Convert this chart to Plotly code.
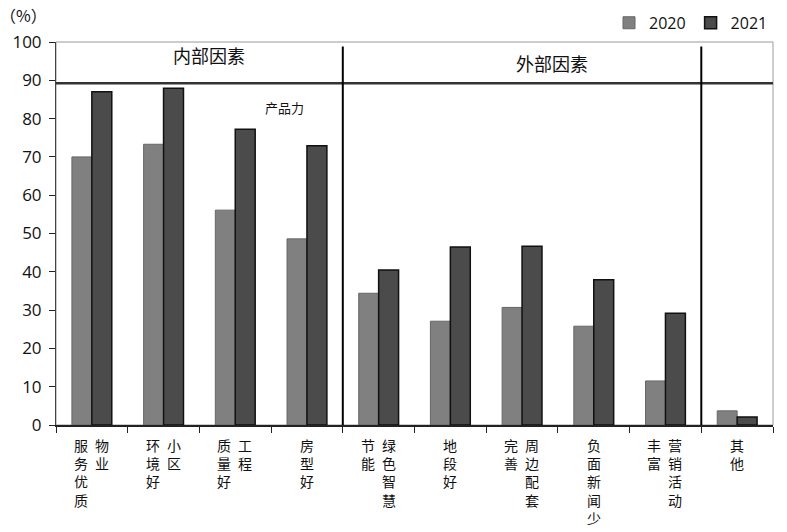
import plotly.graph_objects as go

# Data
categories = ["物业服务优质", "小区环境好", "工程质量好", "房型好", "绿色智慧节能",
              "地段好", "周边配套完善", "负面新闻少", "营销活动丰富", "其他"]
# vertical label columns: (left column, right column)
label_columns = [("服务优质", "物业"), ("环境好", "小区"), ("质量好", "工程"), ("房型好", ""),
                 ("节能", "绿色智慧"), ("地段好", ""), ("完善", "周边配套"), ("负面新闻少", ""),
                 ("丰富", "营销活动"), ("其他", "")]
values_2020 = [70.0, 73.3, 56.1, 48.6, 34.4, 27.1, 30.7, 25.8, 11.5, 3.7]
values_2021 = [87.0, 87.9, 77.2, 72.9, 40.5, 46.5, 46.7, 37.9, 29.2, 2.1]
series_names = ["2020", "2021"]
group_labels = ["内部因素", "外部因素"]
divider_value = 89.2

CJK = "Noto Sans CJK SC"
NUM = "Open Sans"

fig = go.Figure()
fig.add_trace(go.Bar(x=categories, y=values_2020, name=series_names[0],
                     marker=dict(color="#808080", line=dict(color="#666666", width=1))))
fig.add_trace(go.Bar(x=categories, y=values_2021, name=series_names[1],
                     marker=dict(color="#4b4b4b", line=dict(color="#111111", width=1.5))))

annotations = []
# vertical category labels, one text block per column
for cat, (left, right) in zip(categories, label_columns):
    cols = [(left, 0)] if not right else [(left, -11), (right, 10)]
    for text, dx in cols:
        annotations.append(dict(x=cat, xref="x", y=0, yref="paper", text="<br>".join(text),
                                showarrow=False, xanchor="center", yanchor="top",
                                xshift=dx, yshift=-9, borderpad=0,
                                font=dict(family=CJK, size=14, color="#111111")))

annotations += [
    dict(x=0.213, xref="paper", y=96.6, yref="y", text=group_labels[0], showarrow=False,
         xanchor="center", yanchor="middle", font=dict(family=CJK, size=18, color="#111111")),
    dict(x=0.692, xref="paper", y=94.4, yref="y", text=group_labels[1], showarrow=False,
         xanchor="center", yanchor="middle", font=dict(family=CJK, size=18, color="#111111")),
    dict(x=0.319, xref="paper", y=82.8, yref="y", text="产品力", showarrow=False,
         xanchor="center", yanchor="middle", font=dict(family=CJK, size=13, color="#111111")),
    dict(x=-0.045, xref="paper", y=1.07, yref="paper", text="（%）", showarrow=False,
         xanchor="center", yanchor="middle", font=dict(family=CJK, size=16, color="#111111")),
]

shapes = [
    dict(type="rect", xref="paper", yref="paper", x0=0, x1=1, y0=0, y1=1,
         line=dict(color="#9a9a9a", width=1), layer="below"),
    dict(type="line", xref="paper", yref="y", x0=0, x1=1, y0=divider_value, y1=divider_value,
         line=dict(color="#333333", width=2.5)),
    dict(type="line", xref="x", yref="y", x0=3.5, x1=3.5, y0=0, y1=98.8,
         line=dict(color="#000000", width=2)),
    dict(type="line", xref="x", yref="y", x0=8.5, x1=8.5, y0=0, y1=98.8,
         line=dict(color="#000000", width=2)),
]

fig.update_layout(
    width=787, height=532,
    margin=dict(l=56, r=14, t=42, b=107, autoexpand=False),
    paper_bgcolor="white", plot_bgcolor="white",
    barmode="group", bargap=0.444, bargroupgap=0,
    showlegend=True,
    legend=dict(orientation="h", x=1.0, xanchor="right", y=1.05, yanchor="middle",
                font=dict(family=NUM, size=16, color="#111111"),
                itemwidth=30, bgcolor="rgba(0,0,0,0)"),
    annotations=annotations, shapes=shapes,
    xaxis=dict(showticklabels=False, tickson="boundaries", ticks="outside", ticklen=6,
               tickcolor="#222222", showline=True, linecolor="#222222", linewidth=1.5,
               showgrid=False, fixedrange=True),
    yaxis=dict(range=[0, 100], dtick=10, ticks="outside", ticklen=6, tickcolor="#222222",
               showline=True, linecolor="#444444", linewidth=1, showgrid=False, zeroline=False,
               tickfont=dict(family=NUM, size=17, color="#111111"), ticklabelstandoff=4),
)

fig.write_html("out.html")
